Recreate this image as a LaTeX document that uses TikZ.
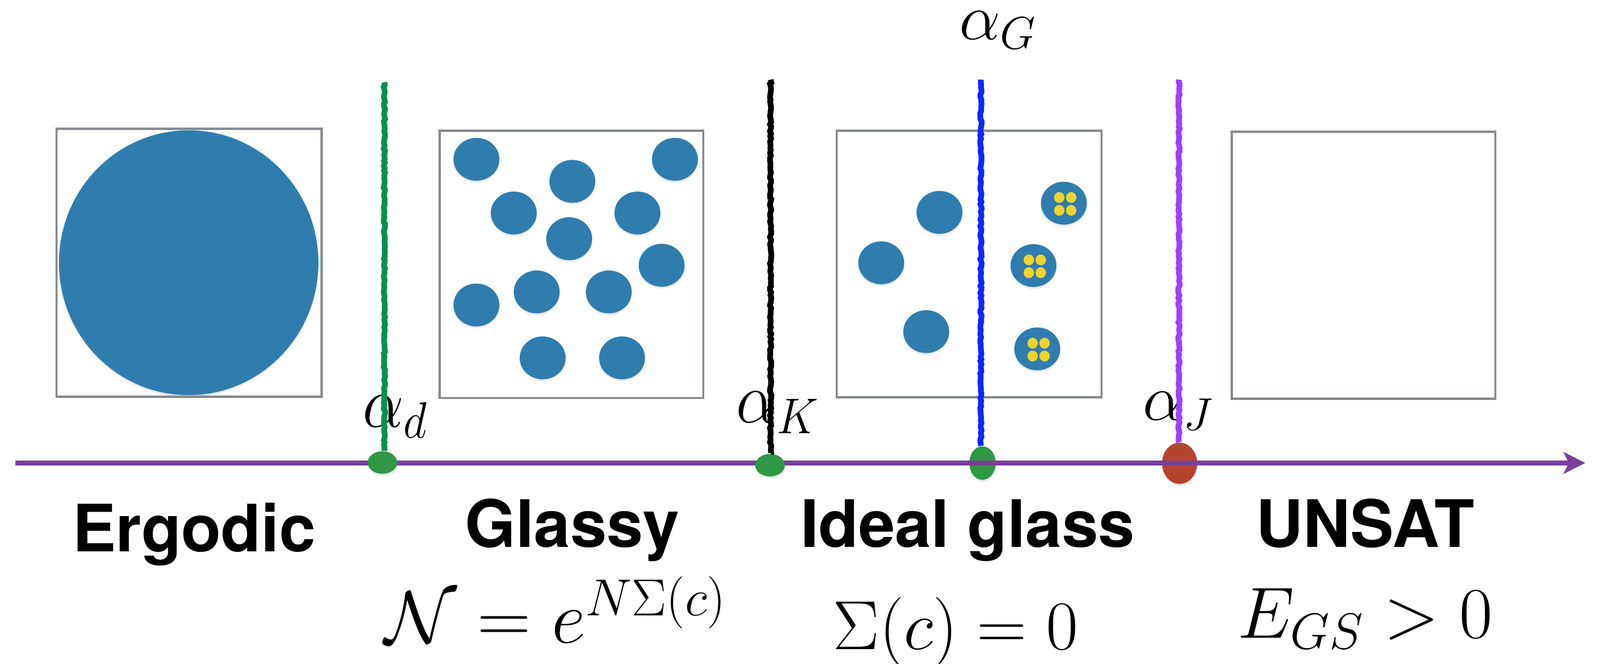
\documentclass[tikz,border=0pt]{standalone}
\usepackage{fix-cm}
\usepackage{fontspec}
\newfontfamily\hvfont{TeX Gyre Heros}
\usetikzlibrary{arrows.meta,shapes.geometric,shadows,decorations.pathmorphing}
\definecolor{blobblue}{RGB}{47,125,175}
\definecolor{boxgray}{RGB}{136,139,143}
\definecolor{dotgreen}{RGB}{46,152,70}
\definecolor{linegreen}{RGB}{0,145,80}
\definecolor{lineblue}{RGB}{10,40,255}
\definecolor{linepurple}{RGB}{160,64,255}
\definecolor{axispurple}{RGB}{123,63,154}
\definecolor{dotred}{RGB}{180,68,48}
\definecolor{dotyellow}{RGB}{242,210,44}
\begin{document}
\begin{tikzpicture}[x=0.5pt,y=-0.5pt,
  frame/.style={draw=boxgray,line width=1.1pt},
  blob/.style={fill=blobblue,drop shadow={opacity=0.18,shadow xshift=0pt,shadow yshift=-0.9pt}},
  yel/.style={fill=dotyellow},
  crit/.style={ellipse,inner sep=0pt,draw=none,drop shadow={opacity=0.2,shadow xshift=0.3pt,shadow yshift=-1pt}},
  chalk/.style={line width=2.8pt,decorate,decoration={random steps,segment length=1.2pt,amplitude=0.35pt}},
  phase/.style={font=\hvfont\bfseries\fontsize{32}{36}\selectfont,anchor=base,inner sep=0pt},
  lab/.style={font=\fontsize{32}{36}\selectfont,anchor=base west,inner sep=0pt},
  formula/.style={anchor=base,inner sep=0pt},
  axisline/.style={draw=axispurple,line width=2.5pt,-{Stealth[length=10.6pt,width=10.5pt,inset=2.5pt]}}
]
\useasboundingbox (0,0) rectangle (1568,650.3);
% boxes
\draw[frame] (55.3,126.1) rectangle (315.3,388.7);
\draw[frame] (431,128.1) rectangle (689.3,389.7);
\draw[frame] (820,128.1) rectangle (1079.4,389);
\draw[frame] (1207,129) rectangle (1465.5,390.5);
% ergodic: one big state
\fill[blob] (184.9,257.3) ellipse [x radius=127.1, y radius=129.7];
% glassy: many states
\foreach \p in {(466.9,156.0),(560.9,177.6),(661.4,156.0),(503.5,208.6),(624.7,208.6),(557.8,233.8),(648.4,259.8),(526.0,285.9),(596.6,285.9),(466.9,298.7),(531.8,350.5),(609.6,350.5)}
  \fill[blob] \p ellipse [x radius=22.5, y radius=21];
% ideal glass
\foreach \p in {(920.7,208),(863.6,257.4),(907.7,324.8)}
  \fill[blob] \p ellipse [x radius=22.5, y radius=21];
\foreach \cx/\cy in {1042.6/199,1012.8/260.1,1016.5/341.7}{
  \fill[blob] (\cx,\cy) ellipse [x radius=22.5, y radius=21];
  \foreach \dx in {-5.85,5.85}
    \foreach \dy in {-6.3,6.3}
      \fill[yel] (\cx+1.3+\dx,\cy+0.7+\dy) ellipse [x radius=5.1, y radius=5.3];
}
% labels of thresholds
\node[lab] (ld) at (355.2,418) {\scalebox{1}[1.12]{$\alpha_d$}};
\node[lab] (lK) at (721,414) {\scalebox{1}[1.1]{$\alpha_K$}};
\node[lab] (lG) at (940,38.5) {$\alpha_G$};
\node[lab] (lJ) at (1119.5,411.5) {$\alpha_J$};
% phase names
\node[phase] (pE) at (190.1,540) {Ergodic};
\node[phase] (pG) at (560.8,536) {Glassy};
\node[phase] (pI) at (948.2,536) {Ideal glass};
\node[phase] (pU) at (1337.9,536) {UNSAT};
% formulas
\node[formula,font=\fontsize{36.5}{40}\selectfont] (fN) at (544.3,629.5) {$\mathcal{N}=e^{N\Sigma(c)}$};
\node[formula,font=\fontsize{34}{40}\selectfont] (fS) at (936.5,636) {$\Sigma(c)=0$};
\node[formula,font=\fontsize{35.5}{40}\selectfont] (fE) at (1337.7,625) {$E_{GS}>0$};
% dots under the axis
\node[crit,fill=dotgreen,minimum width=12.9pt,minimum height=16.4pt] (dG) at (962.8,453.5) {};
\node[crit,fill=dotred,minimum width=17.2pt,minimum height=20.2pt] (dJ) at (1156,453.7) {};
% axis
\coordinate (axs) at (15,453.4);
\coordinate (axe) at (1553.6,453.4);
\draw[axisline] (axs) -- (axe);
% dots over the axis
\node[crit,fill=dotgreen,minimum width=14.5pt,minimum height=11pt] (dd) at (374.8,453) {};
\node[crit,fill=dotgreen,minimum width=14.5pt,minimum height=11pt] (dK) at (754.6,455.6) {};
% vertical threshold lines
\coordinate (td) at (376.7,80.5);
\coordinate (tK) at (755.2,78);
\coordinate (tG) at (961.3,78);
\coordinate (tJ) at (1155.4,78);
\draw[chalk,draw=linegreen] (td) -- (td |- dd.north);
\draw[chalk,draw=black] (tK) -- (tK |- dK.north);
\draw[chalk,draw=lineblue] (tG) -- (tG |- dG.north);
\draw[chalk,draw=linepurple] (tJ) -- (tJ |- dJ.north);
\end{tikzpicture}
\end{document}
